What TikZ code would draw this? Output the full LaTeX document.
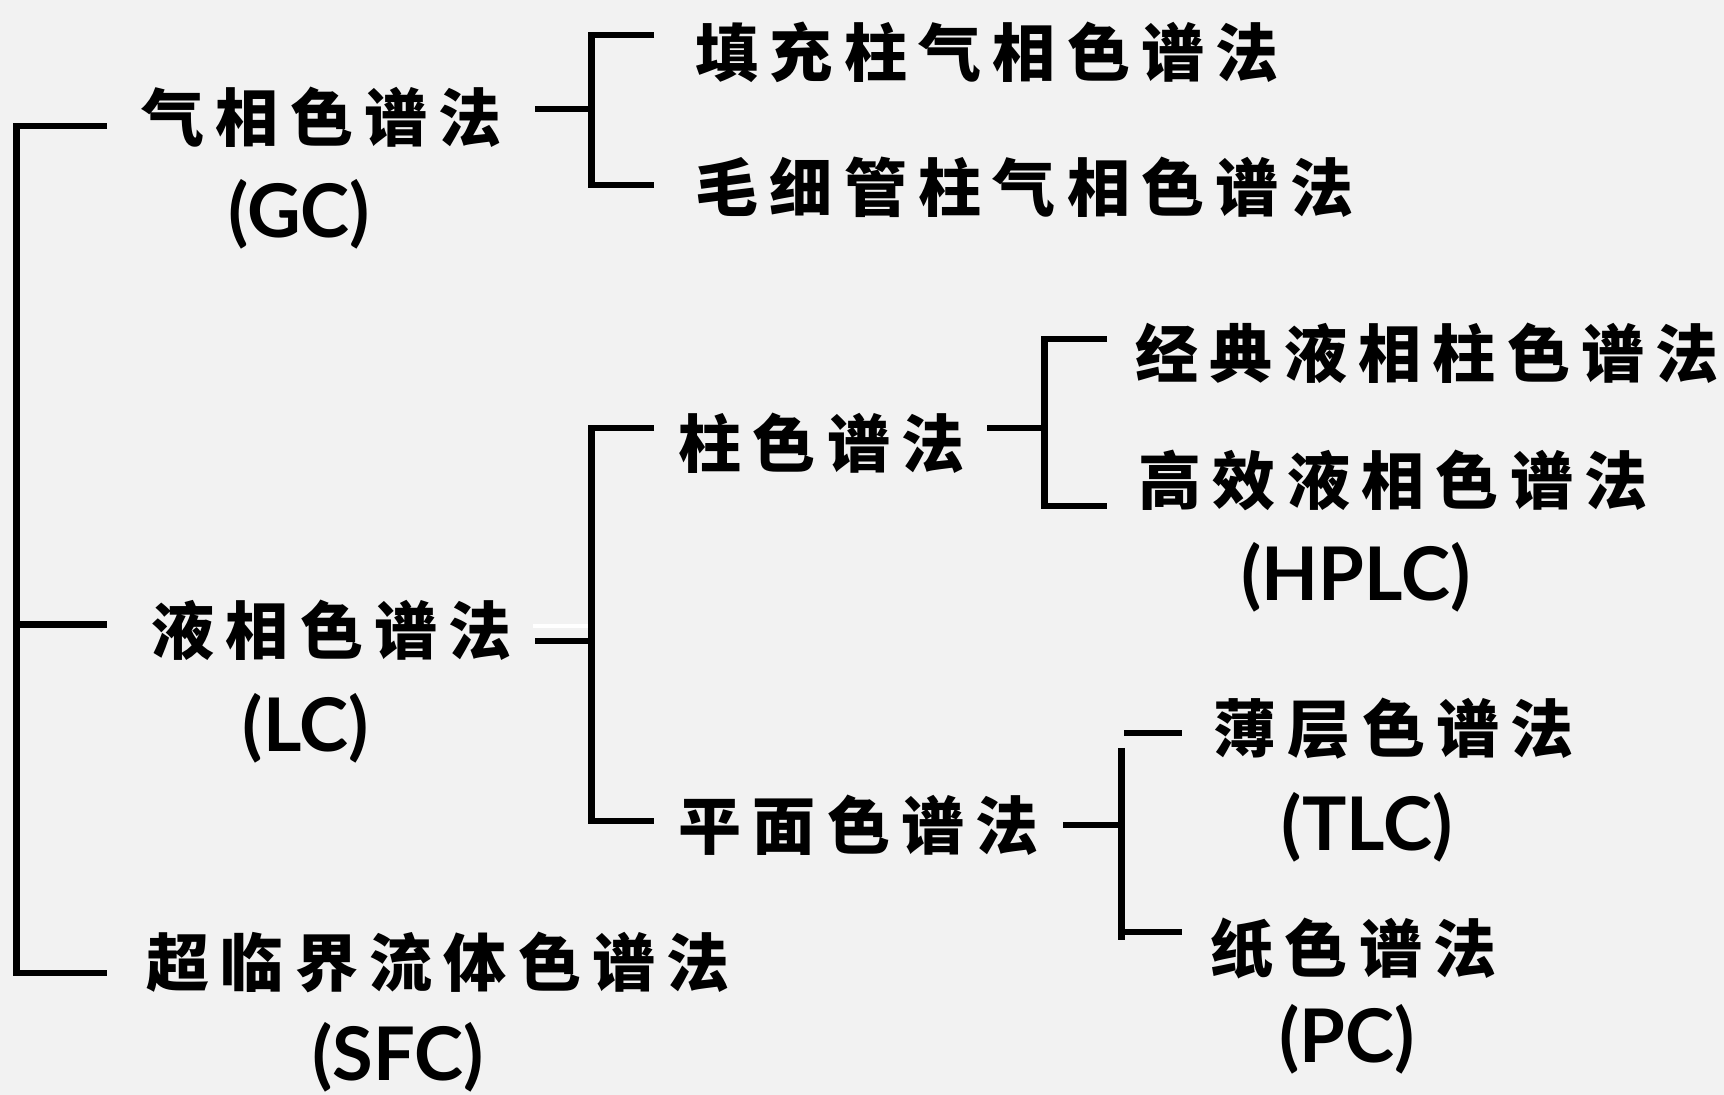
\documentclass[tikz,border=0pt]{standalone}
\usepackage{fontspec}
\setmainfont{Lato}
\newfontfamily\cjk{Noto Sans CJK SC}[LetterSpace=18]
\begin{document}
\begin{tikzpicture}[x=0.5pt,y=-0.5pt,
  cn/.style={font=\cjk\bfseries\fontsize{31.5}{31.5}\selectfont, inner sep=0pt, anchor=west},
  en/.style={font=\bfseries\fontsize{37}{37}\selectfont, inner sep=0pt},
  br/.style={line width=3.4pt, line join=miter}]
\fill[fill={rgb,255:red,242;green,242;blue,242}] (0,0) rectangle (1724,1095);
\useasboundingbox (0,0) rectangle (1724,1095);
% labels
\node[cn] (gc) at (141,117) {气相色谱法};
\node[en] (gcab) at (299,214) {(GC)};
\node[cn] (lc) at (151,630) {液相色谱法};
\node[en] (lcab) at (306,728) {(LC)};
\node[cn] (sfc) at (146,962) {超临界流体色谱法};
\node[en] (sfcab) at (398,1057) {(SFC)};
\node[cn] (gc1) at (695,52) {填充柱气相色谱法};
\node[cn] (gc2) at (695,187) {毛细管柱气相色谱法};
\node[cn] (col) at (678,443) {柱色谱法};
\node[cn] (pla) at (678,825) {平面色谱法};
\node[cn] (col1) at (1135,353) {经典液相柱色谱法};
\node[cn] (col2) at (1138,480) {高效液相色谱法};
\node[en] (col2ab) at (1356,577) {(HPLC)};
\node[cn] (tlc) at (1213,729) {薄层色谱法};
\node[en] (tlcab) at (1367,827) {(TLC)};
\node[cn] (pc) at (1210,948) {纸色谱法};
\node[en] (pcab) at (1347,1039) {(PC)};
% main bracket
\coordinate (m1) at (107,126);
\coordinate (m2) at (107,624.5);
\coordinate (m3) at (107,973);
\draw[br] (m1) -- (16.5,126) -- (16.5,973) -- (m3);
\draw[br] (16.5,624.5) -- (m2);
% GC bracket
\coordinate (g0) at (535,109);
\coordinate (g1) at (654,35);
\coordinate (g2) at (654,185);
\draw[br] (g0) -- (591.5,109);
\draw[br] (g1) -- (591.5,35) -- (591.5,185) -- (g2);
% LC bracket
\coordinate (l0) at (535,641);
\coordinate (l1) at (654,428);
\coordinate (l2) at (654,821);
\draw[white, line width=1.8pt] (533,626) -- (588,626);
\draw[br] (l0) -- (591.5,641);
\draw[br] (l1) -- (591.5,428) -- (591.5,821) -- (l2);
% column bracket
\coordinate (c0) at (987,428);
\coordinate (c1) at (1107,339);
\coordinate (c2) at (1107,506);
\draw[br] (c0) -- (1044.5,428);
\draw[br] (c1) -- (1044.5,339) -- (1044.5,506) -- (c2);
% planar bracket
\coordinate (p0) at (1063,825);
\coordinate (p1) at (1182,733);
\coordinate (p2) at (1182,932);
\draw[br] (p0) -- (1121.5,825);
\draw[br] (1124,733) -- (p1);
\draw[br] (1121.5,748) -- (1121.5,940);
\draw[br] (1121.5,932) -- (p2);
\end{tikzpicture}
\end{document}
